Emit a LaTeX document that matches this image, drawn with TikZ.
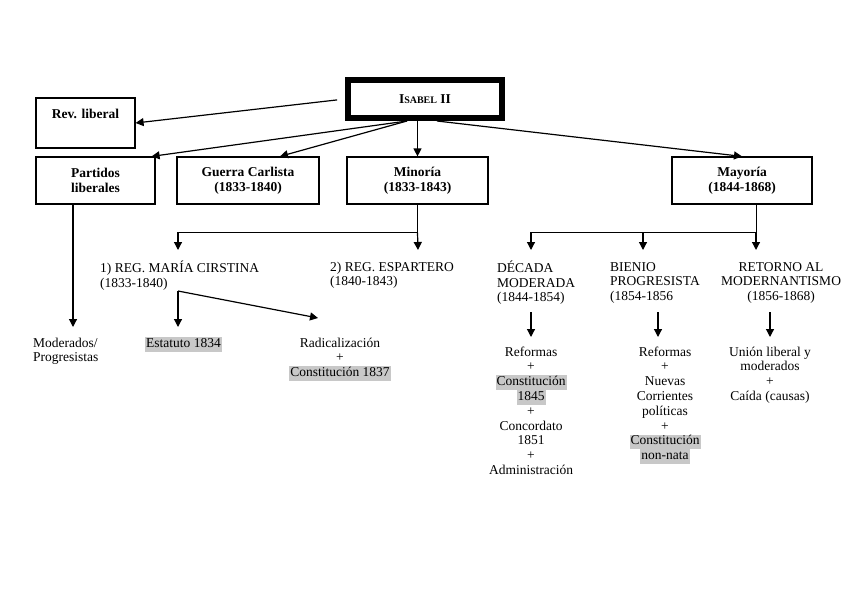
\documentclass[tikz,border=0pt]{standalone}
\usepackage{fontspec}
\setmainfont{Liberation Serif}
\usetikzlibrary{arrows.meta, calc, positioning}
\definecolor{hlgray}{RGB}{200,200,200}
\newcommand{\hlbox}[1]{{\setlength{\fboxsep}{0pt}\colorbox{hlgray}{\strut\kern1pt #1\kern1pt}}}

\begin{document}
\begin{tikzpicture}[x=1pt, y=-1pt,
    every node/.style={font=\fontsize{13.5}{14.8}\selectfont, inner sep=0pt},
    box/.style={draw, line width=1.2pt, align=center, font=\fontsize{13.5}{15}\selectfont\bfseries},
    arr/.style={-{Triangle[length=8pt,width=8pt]}, line width=1.2pt},
    txt/.style={align=left, anchor=north west},
    ctxt/.style={align=center, anchor=north}]
    \useasboundingbox (0,0) rectangle (848,599);

    % boxes
    \node[box, minimum width=154pt, minimum height=38pt, line width=6pt] (isabel) at (425,99)
        {I{\fontsize{10}{12}\selectfont SABEL} II};
    \node[box, minimum width=99pt, minimum height=50pt] (revlib) at (85.5,123) {Rev. liberal\\[4pt]\mbox{}};
    \node[box, minimum width=119pt, minimum height=47pt] (partidos) at (95.5,180.5) {Partidos\\liberales};
    \node[box, minimum width=142pt, minimum height=47pt] (guerra) at (248,180.5) {Guerra Carlista\\(1833-1840)};
    \node[box, minimum width=141pt, minimum height=47pt] (minoria) at (417.5,180.5) {Minoría\\(1833-1843)};
    \node[box, minimum width=140pt, minimum height=47pt] (mayoria) at (742,180.5) {Mayoría\\(1844-1868)};

    % texts (first line carries a strut, so north = baseline - 10.4)
    \node[txt] (moder) at (33,336.6) {\strut Moderados/\\Progresistas};
    \node[txt] (reg1) at (100,260.6) {\strut 1) REG. MARÍA CIRSTINA\\(1833-1840)};
    \node[txt] (reg2) at (330,260.6) {\strut 2) REG. ESPARTERO\\(1840-1843)};
    \node[txt] (estatuto) at (145,336.6) {\hlbox{Estatuto 1834}};
    \node[ctxt] (radical) at (340,336.6) {\strut Radicalización\\+\\\hlbox{Constitución 1837}};
    \node[txt] (decada) at (497,260.6) {\strut DÉCADA\\MODERADA\\(1844-1854)};
    \node[txt] (bienio) at (610,260.6) {\strut BIENIO\\PROGRESISTA\\(1854-1856};
    \node[ctxt] (retorno) at (781,260.6) {\strut RETORNO AL\\MODERNANTISMO\\(1856-1868)};
    \node[ctxt] (refdec) at (531,345.6) {\strut Reformas\\+\\\hlbox{Constitución}\\\hlbox{1845}\\+\\Concordato\\1851\\+\\Administración};
    \node[ctxt] (refbie) at (665,345.6) {\strut Reformas\\+\\Nuevas\\Corrientes\\políticas\\+\\\hlbox{Constitución}\\\hlbox{non-nata}};
    \node[ctxt] (union) at (770,345.6) {\strut Unión liberal y\\moderados\\+\\Caída (causas)};

    % arrows from Isabel II
    \coordinate (fork) at (407,121);
    \draw[arr, shorten <=8pt] (isabel.west) -- (revlib.east);
    \draw[arr] (fork) -- ($(partidos.north east)+(-4,0)$);
    \draw[arr] (fork) -- ($(guerra.north)+(32,0)$);
    \draw[arr] (minoria.north |- isabel.south) -- (minoria.north);
    \draw[arr] ($(isabel.south)+(12,0)$) -- (mayoria.north);

    % Partidos liberales
    \coordinate (modtop) at (73,327);
    \draw[arr] (partidos.south -| modtop) -- (modtop);

    % Minoria
    \coordinate (minsplit) at ($(minoria.south)+(0,28)$);
    \coordinate (reg1top) at (178,250);
    \coordinate (reg2top) at (418,250);
    \draw (minoria.south) -- (minoria.south |- minsplit);
    \draw[arr] (minoria.south |- minsplit) -| (reg1top);
    \draw[arr] (minoria.south |- minsplit) -- (reg2top);
    \coordinate (reg1fork) at (178,291);
    \coordinate (esttop) at (178,327);
    \coordinate (radtop) at (318,318);
    \draw[arr] (reg1fork) -- (esttop);
    \draw[arr] (reg1fork) -- (radtop);

    % Mayoria
    \coordinate (maydown) at ($(mayoria.south)+(14,0)$);
    \coordinate (maysplit) at ($(maydown)+(0,28)$);
    \draw (maydown) -- (maysplit);
    \foreach \x in {531, 643} {
        \draw[arr] (maysplit) -| (\x,250);
    }
    \draw[arr] (maysplit) -- (maysplit |- reg1top);
    \foreach \n/\x in {dec/531, bie/658, ret/770} {
        \coordinate (\n-up) at (\x,312);
        \coordinate (\n-dn) at (\x,337);
        \draw[arr] (\n-up) -- (\n-dn);
    }
\end{tikzpicture}
\end{document}
